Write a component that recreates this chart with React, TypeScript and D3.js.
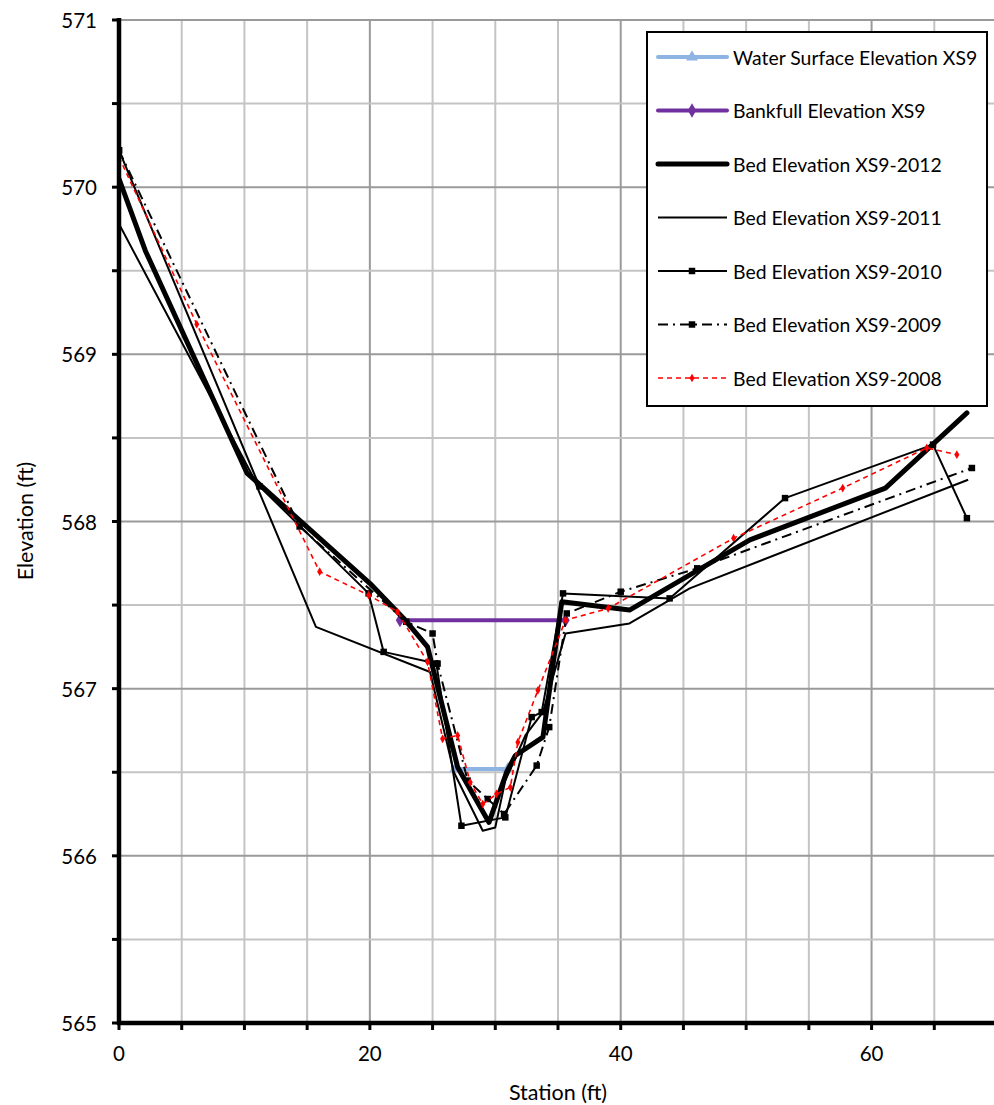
import React from "react";
import * as d3 from "d3";

type P = [number, number];

const waterSurface: P[] = [[26.8, 566.52], [31.0, 566.52]];
const bankfull: P[] = [[22.4, 567.41], [35.6, 567.41]];
const bed2012: P[] = [[0, 570.05], [2.1, 569.62], [10.2, 568.29], [20.0, 567.63], [22.7, 567.42], [24.6, 567.25], [25.1, 567.1], [27.0, 566.53], [29.5, 566.2], [30.9, 566.5], [31.6, 566.6], [33.8, 566.71], [35.3, 567.52], [40.7, 567.47], [50.3, 567.89], [61.1, 568.2], [67.6, 568.65]];
const bed2011: P[] = [[0, 569.78], [10.6, 568.28], [15.7, 567.37], [24.8, 567.1], [26.7, 566.5], [29.0, 566.15], [30.0, 566.17], [30.8, 566.45], [32.4, 566.72], [33.8, 566.86], [35.6, 567.33], [40.7, 567.39], [45.5, 567.6], [67.7, 568.25]];
const bed2010: P[] = [[0, 570.22], [11.2, 568.21], [19.9, 567.57], [21.1, 567.22], [25.3, 567.15], [27.3, 566.18], [30.8, 566.23], [32.9, 566.83], [33.7, 566.86], [35.4, 567.57], [43.9, 567.54], [53.1, 568.14], [64.9, 568.46], [67.6, 568.02]];
const bed2009: P[] = [[0, 570.22], [14.4, 567.97], [22.9, 567.4], [25.0, 567.33], [25.4, 567.15], [27.8, 566.45], [29.4, 566.34], [30.7, 566.25], [33.3, 566.54], [34.3, 566.77], [35.7, 567.45], [40.0, 567.58], [46.1, 567.72], [68.0, 568.32]];
const bed2008: P[] = [[0, 570.18], [6.2, 569.18], [16.0, 567.7], [19.9, 567.56], [22.2, 567.46], [24.6, 567.16], [25.8, 566.7], [27.0, 566.72], [28.0, 566.44], [29.0, 566.31], [30.1, 566.37], [31.2, 566.41], [31.8, 566.68], [33.4, 566.99], [35.6, 567.41], [39.0, 567.48], [49.0, 567.9], [57.7, 568.2], [64.4, 568.44], [66.8, 568.4]];

const xTicksMajor = [0, 20, 40, 60];
const yTicksMajor = [565, 566, 567, 568, 569, 570, 571];
const legendLabels = [
  "Water Surface Elevation XS9",
  "Bankfull Elevation XS9",
  "Bed Elevation XS9-2012",
  "Bed Elevation XS9-2011",
  "Bed Elevation XS9-2010",
  "Bed Elevation XS9-2009",
  "Bed Elevation XS9-2008",
];

const W = 994;
const H = 1105;
const FONT = "Lato, 'Open Sans', sans-serif";

type Style = {
  color: string;
  width: number;
  dash?: string;
  marker?: "triangle" | "diamond" | "square" | "smalldiamond";
  msize?: number;
};

const styles: Style[] = [
  { color: "#8DB4E2", width: 4, marker: "triangle", msize: 60 },
  { color: "#7030A0", width: 4, marker: "diamond", msize: 60 },
  { color: "#000000", width: 5 },
  { color: "#000000", width: 2 },
  { color: "#000000", width: 2, marker: "square", msize: 42 },
  { color: "#000000", width: 2, dash: "10,5,2,5", marker: "square", msize: 42 },
  { color: "#FF0000", width: 1.6, dash: "5,4", marker: "smalldiamond", msize: 22 },
];

const seriesData: P[][] = [waterSurface, bankfull, bed2012, bed2011, bed2010, bed2009, bed2008];

function symbolPath(m: Style["marker"], size: number): string {
  const t =
    m === "triangle"
      ? d3.symbolTriangle
      : m === "square"
      ? d3.symbolSquare
      : d3.symbolDiamond;
  return d3.symbol().type(t).size(size)() || "";
}

export default function App() {
  const x = d3.scaleLinear().domain([0, 70]).range([119, 997]);
  const y = d3.scaleLinear().domain([565, 571]).range([1023, 20]);
  const line = d3
    .line<P>()
    .x((d) => x(d[0]))
    .y((d) => y(d[1]));

  const xMinor = d3.range(0, 71, 5);
  const yMinor = d3.range(565, 571.01, 0.5);

  const legX = 647;
  const legY = 32;
  const legW = 340;
  const legH = 374;
  const rowY = (i: number) => 57 + i * 53.5;

  return (
    <svg
      width={W}
      height={H}
      style={{ position: "absolute", left: 0, top: 0, background: "#fff" }}
      fontFamily={FONT}
    >
      <rect x={0} y={0} width={W} height={H} fill="#fff" />
      <defs>
        <clipPath id="plotclip">
          <rect x={119} y={0} width={W - 119} height={1030} />
        </clipPath>
      </defs>
      {xMinor.map((v) => (
        <line
          key={"gx" + v}
          x1={x(v)}
          x2={x(v)}
          y1={y(571)}
          y2={y(565)}
          stroke={v % 20 === 0 ? "#9a9a9a" : "#c4c4c4"}
          strokeWidth={2}
        />
      ))}
      {yMinor.map((v) => (
        <line
          key={"gy" + v}
          x1={x(0)}
          x2={W}
          y1={y(v)}
          y2={y(v)}
          stroke={Math.abs(v - Math.round(v)) < 1e-6 ? "#9a9a9a" : "#c4c4c4"}
          strokeWidth={2}
        />
      ))}

      <g clipPath="url(#plotclip)">
        {seriesData.map((data, i) => {
          const s = styles[i];
          return (
            <g key={"s" + i}>
              <path
                d={line(data) || ""}
                fill="none"
                stroke={s.color}
                strokeWidth={s.width}
                strokeDasharray={s.dash}
                strokeLinejoin="round"
                strokeLinecap={i === 2 ? "round" : "butt"}
              />
              {s.marker &&
                data.map((d, j) => (
                  <path
                    key={j}
                    d={symbolPath(s.marker, s.msize || 30)}
                    transform={`translate(${x(d[0])},${y(d[1])})`}
                    fill={s.color}
                  />
                ))}
            </g>
          );
        })}
      </g>

      <line x1={x(0)} x2={x(0)} y1={y(571) - 2} y2={y(565) + 2} stroke="#000" strokeWidth={4.5} />
      <line x1={x(0) - 2} x2={W} y1={y(565)} y2={y(565)} stroke="#000" strokeWidth={4.5} />
      {yMinor.map((v) => (
        <line key={"ty" + v} x1={x(0) - 7} x2={x(0)} y1={y(v)} y2={y(v)} stroke="#000" strokeWidth={3} />
      ))}
      {xMinor.map((v) => (
        <line key={"tx" + v} x1={x(v)} x2={x(v)} y1={y(565)} y2={y(565) + 7} stroke="#000" strokeWidth={3} />
      ))}

      {yTicksMajor.map((v) => (
        <text key={"ly" + v} x={97} y={y(v)} textAnchor="end" dominantBaseline="central" fontSize={20.5} fill="#000">
          {v}
        </text>
      ))}
      {xTicksMajor.map((v) => (
        <text key={"lx" + v} x={x(v)} y={1053} textAnchor="middle" dominantBaseline="central" fontSize={20.5} fill="#000">
          {v}
        </text>
      ))}
      <text x={558} y={1092} textAnchor="middle" dominantBaseline="central" fontSize={21.5} fill="#000">
        Station (ft)
      </text>
      <text
        transform={`translate(25,521) rotate(-90)`}
        textAnchor="middle"
        dominantBaseline="central"
        fontSize={21.5}
        fill="#000"
      >
        Elevation (ft)
      </text>

      <rect x={legX} y={legY} width={legW} height={legH} fill="#fff" stroke="#000" strokeWidth={2} />
      {legendLabels.map((lab, i) => {
        const s = styles[i];
        const cy = rowY(i);
        return (
          <g key={"lg" + i}>
            <line
              x1={658}
              x2={727}
              y1={cy}
              y2={cy}
              stroke={s.color}
              strokeWidth={s.width}
              strokeDasharray={s.dash}
              strokeLinecap={i < 3 ? "round" : "butt"}
            />
            {s.marker && (
              <path d={symbolPath(s.marker, s.msize || 30)} transform={`translate(692,${cy})`} fill={s.color} />
            )}
            <text x={733} y={cy} dominantBaseline="central" fontSize={19.4} fill="#000">
              {lab}
            </text>
          </g>
        );
      })}
    </svg>
  );
}
